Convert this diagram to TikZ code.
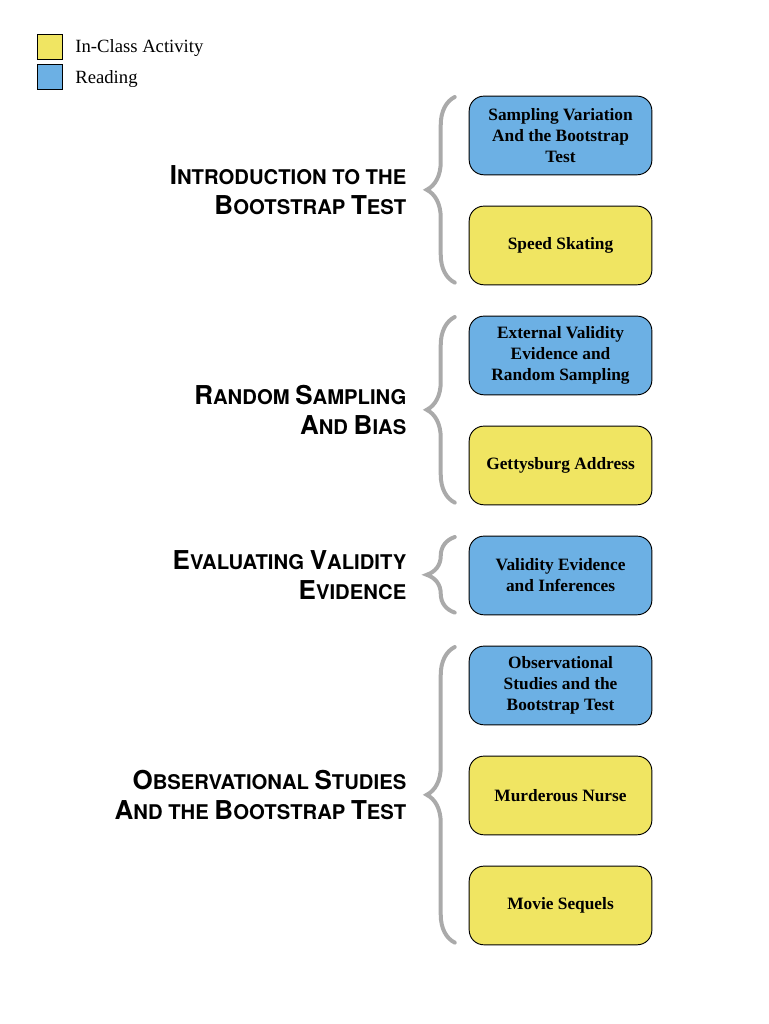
\documentclass[tikz,border=0pt]{standalone}
\usepackage{fontspec}
\setmainfont{Liberation Serif}
\newfontfamily\headfont{TeX Gyre Heros}
\usetikzlibrary{positioning,decorations.pathreplacing}
\definecolor{actyellow}{RGB}{240,229,98}
\definecolor{readblue}{RGB}{108,176,228}
\definecolor{bracegray}{RGB}{170,170,170}
\newcommand{\capfirst}[1]{{\fontsize{19.5}{22.5}\selectfont #1}}

\begin{document}
\begin{tikzpicture}[act/.style={rectangle, rounded corners=11pt, draw=black, line width=0.7pt, fill=actyellow, minimum width=137pt, minimum height=59pt, align=center, font=\bfseries\fontsize{13}{15.75}\selectfont},read/.style={act, fill=readblue},heading/.style={align=right, text=black, font=\headfont\bfseries\fontsize{15.2}{22.5}\selectfont},key/.style={rectangle, draw=black, line width=0.7pt, minimum size=18.75pt, inner sep=0pt},keytext/.style={inner sep=0pt, font=\fontsize{14}{15}\selectfont},grouping/.style={draw=bracegray, line width=3pt, line cap=round, decorate, decoration={brace, amplitude=21pt}},node distance=82.5pt]
            \useasboundingbox (0,0) rectangle (576pt,-768pt);
            \node[key, fill=actyellow] (keyact) at (37.1pt,-34.9pt) {};
            \node[keytext, right=9.5pt of keyact, yshift=-1.2pt] (keyacttext) {In-Class Activity};
            \node[key, fill=readblue] (keyread) at (37.1pt,-58.1pt) {};
            \node[keytext, right=9.5pt of keyread, yshift=-1.2pt] (keyreadtext) {Reading};
            \node[read] (sv) at (420.4pt,-101.6pt) {Sampling Variation\\And the Bootstrap\\Test};
            \node[act, below of=sv] (ss) {Speed Skating};
            \node[read, below of=ss] (ev) {External Validity\\Evidence and\\Random Sampling};
            \node[act, below of=ev] (ga) {Gettysburg Address};
            \node[read, below of=ga] (vi) {Validity Evidence\\and Inferences};
            \node[read, below of=vi] (os) {Observational\\Studies and the\\Bootstrap Test};
            \node[act, below of=os] (mn) {Murderous Nurse};
            \node[act, below of=mn] (ms) {Movie Sequels};
            \draw[grouping] ([xshift=-10.5pt,yshift=2pt]ss.south west) -- node[heading, midway, left=31.5pt] (intro) {\capfirst{I}NTRODUCTION TO THE\\\capfirst{B}OOTSTRAP \capfirst{T}EST} ([xshift=-10.5pt,yshift=-1pt]sv.north west);
            \draw[grouping] ([xshift=-10.5pt,yshift=2pt]ga.south west) -- node[heading, midway, left=31.5pt] (random) {\capfirst{R}ANDOM \capfirst{S}AMPLING\\\capfirst{A}ND \capfirst{B}IAS} ([xshift=-10.5pt,yshift=-1pt]ev.north west);
            \draw[grouping] ([xshift=-10.5pt,yshift=2pt]vi.south west) -- node[heading, midway, left=31.5pt] (validity) {\capfirst{E}VALUATING \capfirst{V}ALIDITY\\\capfirst{E}VIDENCE} ([xshift=-10.5pt,yshift=-1pt]vi.north west);
            \draw[grouping] ([xshift=-10.5pt,yshift=2pt]ms.south west) -- node[heading, midway, left=31.5pt] (observ) {\capfirst{O}BSERVATIONAL \capfirst{S}TUDIES\\\capfirst{A}ND THE \capfirst{B}OOTSTRAP \capfirst{T}EST} ([xshift=-10.5pt,yshift=-1pt]os.north west);
        \end{tikzpicture}
\end{document}
